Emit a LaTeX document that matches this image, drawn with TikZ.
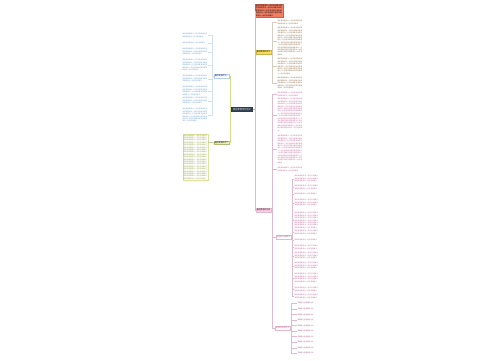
\documentclass[tikz,border=0pt]{standalone}
\usepackage{fontspec}
\setmainfont{Noto Sans CJK SC}
\usepackage{tikz}
\usetikzlibrary{calc,positioning}
\XeTeXlinebreaklocale "zh"
\XeTeXlinebreakskip = 0pt plus 0.5pt

\definecolor{RootGray}{HTML}{2F3E4E}
\definecolor{RedNode}{HTML}{F27D62}
\definecolor{YellowNode}{HTML}{F7DE5C}
\definecolor{PinkNode}{HTML}{F4CFE0}
\definecolor{LimeNode}{HTML}{EEF4B4}
\definecolor{LeafBlue}{HTML}{6C9BD6}
\definecolor{LeafOlive}{HTML}{8E9B3C}
\definecolor{LeafBrown}{HTML}{8F6E4C}
\definecolor{LeafPink}{HTML}{C2679B}
\definecolor{LinePink}{HTML}{E3B9CE}
\definecolor{LineOrange}{HTML}{F2B486}
\definecolor{LineGreen}{HTML}{D3DC8A}

% one line of body text is 14 characters
\newcommand\wen[1]{\foreach \k in {1,...,#1}{我的梦想是成为一名好老师教书}}

\tikzset{
  root/.style={fill=RootGray,text=white,inner sep=1pt,minimum width=22pt,minimum height=4.6pt,font=\fontsize{2.2}{2.6}\selectfont},
  topic/.style={draw,line width=0.2pt,inner sep=0.8pt,minimum height=3.8pt,font=\fontsize{1.9}{2.3}\selectfont},
  leaf/.style={inner sep=0.3pt,align=left,font=\fontsize{1.6}{2.4}\selectfont},
  leafA/.style={leaf,anchor=north east,text width=25pt,text=LeafBlue},
  leafB/.style={leaf,anchor=north east,text width=24pt,text=LeafOlive,draw=LimeNode!80!LeafOlive,inner sep=0.6pt,line width=0.2pt},
  leafY/.style={leaf,anchor=north west,text width=25pt,text=LeafBrown},
  leafP/.style={leaf,anchor=north west,text width=25pt,text=LeafPink},
  leafQ/.style={leaf,anchor=north west,text width=24pt,text=LeafPink},
  leafS/.style={leaf,anchor=west,text=LeafPink!85!black},
  twig/.style={line width=0.3pt},
}

\begin{document}
\begin{tikzpicture}[x=1pt,y=-1pt]
  \useasboundingbox[fill=white] (0,0) rectangle (500,360);

  % Root
  \node[root] (root) at (242,109.5) {我的梦想作文范文};

  % Left topics
  \node[topic,anchor=east,draw=LeafBlue!50,fill=white] (nA) at (229,76) {我的梦想作文一};
  \node[topic,anchor=east,draw=LeafOlive!70,fill=LimeNode] (nB) at (229,142.5) {我的梦想作文二};

  % Right topics
  \node[topic,anchor=north west,draw=RedNode!80!black,fill=RedNode,text width=26pt,align=left,font=\fontsize{1.7}{2.5}\selectfont] (nR) at (255,4) {\wen{5}};
  \node[topic,anchor=west,draw=YellowNode!80!black,fill=YellowNode] (nY) at (256,52) {我的梦想作文三};
  \node[topic,anchor=west,draw=LinePink,fill=PinkNode] (nP) at (256,210) {我的梦想作文四};
  \node[topic,anchor=west,draw=LinePink,fill=white,text=LeafPink] (nP1) at (276,237) {梦想的内容要点};
  \node[topic,anchor=west,draw=LinePink,fill=white,text=LeafPink] (nP2) at (275,328) {梦想的相关句子};

  % Leaves
  \foreach \n/\y/\l in {a1/33/2,a2/41.5/1,a3/48/3,a4/59/5,a5/75/3,a6/86/4,a7/97/3,a8/108/6}
    \node[leafA] (\n) at (208,\y) {\wen{\l}};
  \node[leafB] (b1) at (208,134) {\wen{19}};
  \foreach \n/\y/\l in {y1/20/2,y2/27/12,y3/58/7,y4/77/5}
    \node[leafY] (\n) at (277,\y) {\wen{\l}};
  \foreach \n/\y/\l in {p1/92/2,p2/98/14,p3/135/12,p4/167/2}
    \node[leafP] (\n) at (277,\y) {\wen{\l}};
  \foreach \n/\y/\l in {q1/175/3,q2/185/2,q3/193/1,q4/199/3,q5/212/7,q6/230/2,q7/239/1,q8/245/2,q9/252/3,q10/262/3,q11/273/4,q12/287/2,q13/294/2}
    \node[leafQ] (\n) at (294,\y) {\wen{\l}};
  \foreach \i in {0,...,9}
    \node[leafS] (s\i) at (297,{303.3+5.55*\i}) {梦想是人生前进的方向};

  % Connectors
  \draw[twig,LineGreen] (root.west) -- ++(-1,0) coordinate (root-l);
  \draw[twig,LineGreen] (root-l) |- (nA.east);
  \draw[twig,LineGreen] (root-l) |- (nB.east);
  \draw[twig,LineOrange] (root.east) -- ++(1.5,0) coordinate (root-r);
  \draw[twig,LineOrange] (root-r) |- (nR.west);
  \draw[twig,LineOrange] (root-r) |- (nY.west);
  \draw[twig,LinePink] (root-r) |- (nP.west);

  \draw[twig,LeafBlue!30] (nA.west) -- ++(-1.5,0) coordinate (nA-j);
  \foreach \n in {a1,a2,a3,a4,a5,a6,a7,a8}
    \draw[twig,LeafBlue!30] (nA-j) |- (\n.east);
  \draw[twig,LeafOlive!50] (nB.west) -- (nB.west -| b1.east);
  \draw[twig,LeafBrown!35] (nY.east) -- ++(1.2,0) coordinate (nY-j);
  \foreach \n in {y1,y2,y3,y4}
    \draw[twig,LeafBrown!35] (nY-j) |- (\n.west);
  \draw[twig,LinePink] (nP.east) -- ++(1.5,0) coordinate (nP-j);
  \foreach \n in {p1,p2,p3,p4,nP1,nP2}
    \draw[twig,LinePink] (nP-j) |- (\n.west);
  \draw[twig,LinePink] (nP1.east) -- ++(1.2,0) coordinate (nP1-j);
  \foreach \n in {q1,q2,q3,q4,q5,q6,q7,q8,q9,q10,q11,q12,q13}
    \draw[twig,LinePink] (nP1-j) |- (\n.west);
  \draw[twig,LinePink] (nP2.east) -- ++(1.5,0) coordinate (nP2-j);
  \foreach \i in {0,...,9}
    \draw[twig,LinePink] (nP2-j) |- (s\i.west);

\end{tikzpicture}
\end{document}
